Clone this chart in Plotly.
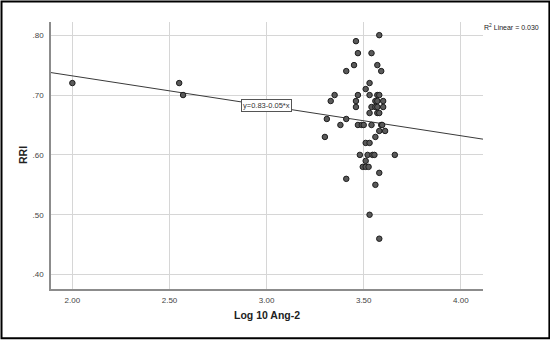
import plotly.graph_objects as go

# ---- data ----
log10_ang2 = [2.00, 2.55, 2.57,
              3.58, 3.46, 3.47, 3.54, 3.45, 3.57, 3.41, 3.59, 3.53, 3.51,
              3.35, 3.47, 3.53, 3.57, 3.58,
              3.33, 3.46, 3.56, 3.57, 3.60,
              3.46, 3.54, 3.56, 3.57, 3.60,
              3.53, 3.57, 3.58,
              3.31, 3.41,
              3.38, 3.47, 3.49, 3.50, 3.54, 3.59, 3.595,
              3.58, 3.61,
              3.30, 3.56,
              3.51, 3.53,
              3.48, 3.52, 3.545, 3.555, 3.66,
              3.51,
              3.495, 3.51, 3.525,
              3.58, 3.41, 3.56, 3.53, 3.58]
rri = [0.72, 0.72, 0.70,
       0.80, 0.79, 0.77, 0.77, 0.75, 0.75, 0.74, 0.74, 0.72, 0.71,
       0.70, 0.70, 0.70, 0.70, 0.70,
       0.69, 0.69, 0.69, 0.69, 0.69,
       0.68, 0.68, 0.68, 0.68, 0.68,
       0.67, 0.67, 0.67,
       0.66, 0.66,
       0.65, 0.65, 0.65, 0.65, 0.65, 0.65, 0.65,
       0.64, 0.64,
       0.63, 0.63,
       0.62, 0.62,
       0.60, 0.60, 0.60, 0.60, 0.60,
       0.59,
       0.58, 0.58, 0.58,
       0.57, 0.56, 0.55, 0.50, 0.46]

fit_intercept = 0.832
fit_slope = -0.05
fit_label = "y=0.83-0.05*x"
r2_label = "R<sup>2</sup> Linear = 0.030"

x_tick_vals = [2.0, 2.5, 3.0, 3.5, 4.0]
x_tick_text = ["2.00", "2.50", "3.00", "3.50", "4.00"]
y_tick_vals = [0.4, 0.5, 0.6, 0.7, 0.8]
y_tick_text = [".40", ".50", ".60", ".70", ".80"]

x_range = [1.89, 4.114]
y_range = [0.376, 0.822]

FONT = "Liberation Sans, Arial, sans-serif"

W, H = 550, 340
ML, MR, MT, MB = 50.5, 67.4, 21.5, 50.5
PW, PH = W - ML - MR, H - MT - MB

fig = go.Figure()

fit_x = [x_range[0], x_range[1]]
fit_y = [fit_intercept + fit_slope * v for v in fit_x]
fig.add_trace(go.Scatter(x=fit_x, y=fit_y, mode="lines",
                         line=dict(color="#3a3a3a", width=1),
                         hoverinfo="skip", showlegend=False))

fig.add_trace(go.Scatter(x=log10_ang2, y=rri, mode="markers",
                         marker=dict(size=5.5, color="#5a5a5a",
                                     line=dict(color="#1e1e1e", width=1)),
                         showlegend=False))

fig.update_layout(
    width=W, height=H,
    margin=dict(l=ML, r=MR, t=MT, b=MB, pad=0),
    paper_bgcolor="white", plot_bgcolor="white",
    font=dict(family=FONT, color="#333333"),
    xaxis=dict(range=x_range, tickvals=x_tick_vals, ticktext=x_tick_text,
               showgrid=True, gridcolor="#d6d6d6", gridwidth=1,
               zeroline=False, showline=True, linecolor="#8c8c8c", linewidth=1.5,
               ticks="", tickfont=dict(size=8, color="#444444", family=FONT),
               ticklabelstandoff=3),
    yaxis=dict(range=y_range, tickvals=y_tick_vals, ticktext=y_tick_text,
               showgrid=True, gridcolor="#d6d6d6", gridwidth=1,
               zeroline=False, showline=True, linecolor="#8c8c8c", linewidth=1.5,
               ticks="", tickfont=dict(size=8, color="#444444", family=FONT),
               ticklabelstandoff=4),
)

# axis titles as annotations
fig.add_annotation(text="<b>Log 10 Ang-2</b>", xref="paper", yref="paper",
                   x=0.5, y=-(316 - (H - MB)) / PH,
                   xanchor="center", yanchor="middle", showarrow=False,
                   font=dict(size=10.5, color="#222222", family=FONT))
fig.add_annotation(text="<b>RRI</b>", xref="paper", yref="paper",
                   x=(22 - ML) / PW, y=0.5, textangle=-90,
                   xanchor="center", yanchor="middle", showarrow=False,
                   font=dict(size=10.5, color="#222222", family=FONT))

# equation box
fig.add_annotation(text=fit_label, x=3.0, y=0.683, xref="x", yref="y",
                   showarrow=False, bgcolor="white", bordercolor="#555555",
                   borderwidth=1, borderpad=1,
                   font=dict(size=7.5, color="#333333", family=FONT))

# R^2 label
fig.add_annotation(text=r2_label, xref="paper", yref="paper",
                   x=(482 - ML) / PW, y=(H - MB - 27) / PH,
                   xanchor="left", yanchor="middle", showarrow=False,
                   font=dict(size=7, color="#222222", family=FONT))

# outer black frame
fig.add_shape(type="rect", xref="paper", yref="paper",
              x0=-(ML - 1) / PW, x1=1 + (MR - 1) / PW,
              y0=-(MB - 1) / PH, y1=1 + (MT - 1) / PH,
              line=dict(color="black", width=2), fillcolor="rgba(0,0,0,0)",
              layer="above")

fig.write_html("out.html", config={"displayModeBar": False},
               post_script="document.body.style.margin='0';document.body.style.overflow='hidden';")
